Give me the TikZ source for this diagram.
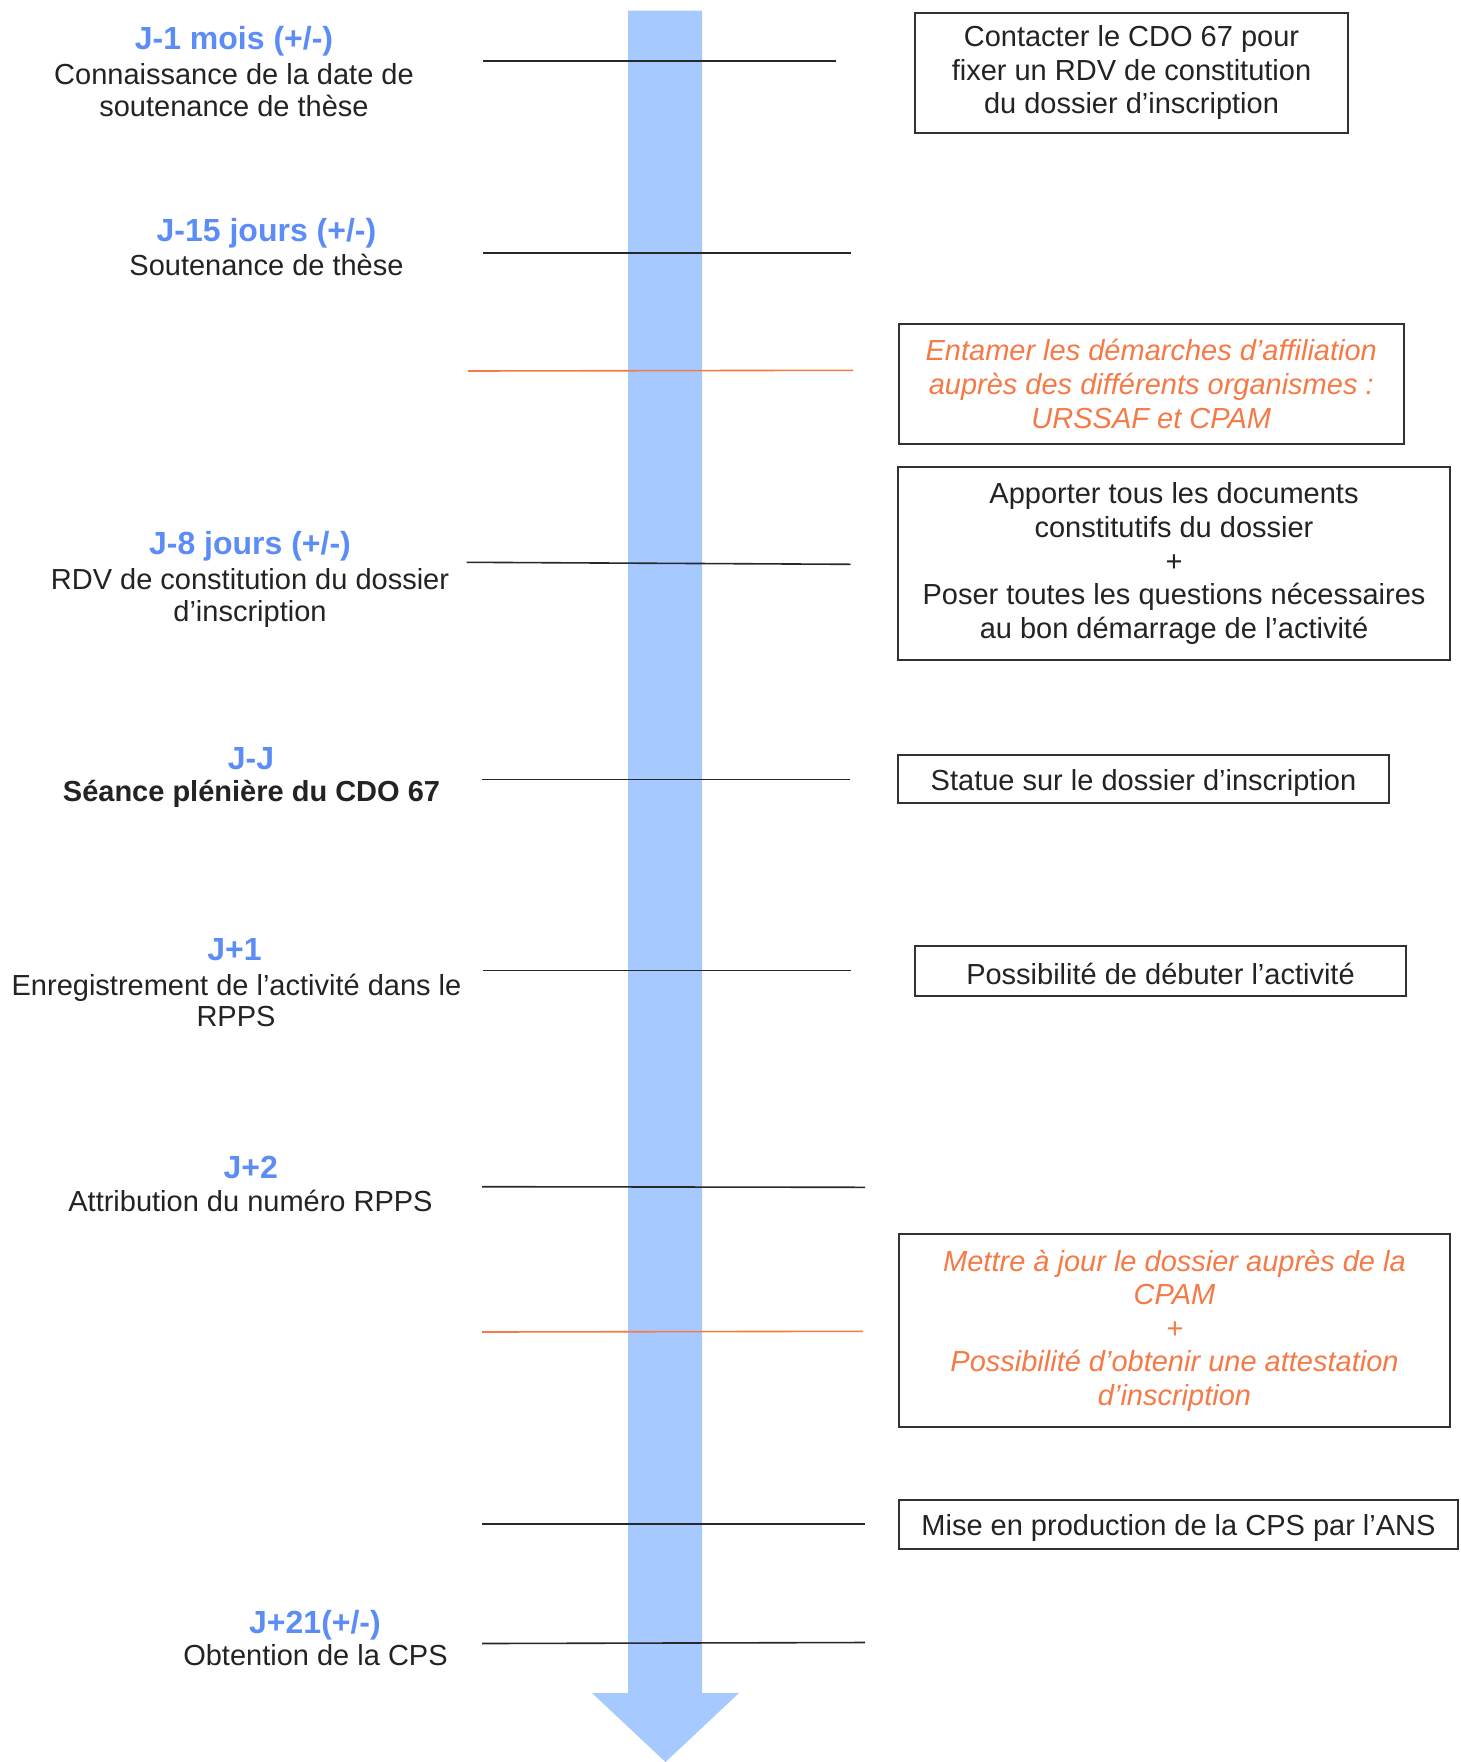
\documentclass[tikz,border=0pt]{standalone}
\usepackage{fontspec}
\setmainfont{Liberation Sans}
\definecolor{jblue}{RGB}{92,141,246}
\definecolor{arrowc}{RGB}{166,201,255}
\definecolor{orng}{RGB}{245,122,70}
\definecolor{txt}{RGB}{35,35,35}
\definecolor{boxc}{RGB}{50,50,50}
\definecolor{linec}{RGB}{40,40,40}
\begin{document}
\begin{tikzpicture}[x=1pt,y=-1pt,
  hd/.style={font=\fontsize{32}{36}\selectfont\bfseries, text=jblue, anchor=base, inner sep=0pt},
  bd/.style={font=\fontsize{29}{33.6}\selectfont, text=txt, anchor=base, inner sep=0pt},
  bdb/.style={bd, font=\fontsize{29}{33.6}\selectfont\bfseries},
  box/.style={draw=boxc, line width=2pt, align=center, font=\fontsize{29}{33.6}\selectfont, text=txt, inner sep=0pt},
  obox/.style={box, text=orng, font=\fontsize{29}{33.6}\selectfont\itshape},
  tick/.style={draw=linec, line width=1.6pt},
  otick/.style={draw=orng, line width=1.6pt}]
\useasboundingbox (0,0) rectangle (1460,1762);
\fill[white] (0,0) rectangle (1460,1762);
% timeline arrow
\fill[arrowc] (628,10.5) -- (702,10.5) -- (702,1693) -- (739,1693) -- (665.5,1762) -- (592,1693) -- (628,1693) -- cycle;
% tick lines
\draw[tick]  (483,60.7) -- (836,60.7);
\draw[tick]  (483,252.7) -- (851,252.7);
\draw[otick] (468,371) -- (853,370.3);
\draw[tick]  (466.7,562.3) -- (850.7,564.3);
\draw[tick]  (482,779.5) -- (850,779.5);
\draw[tick]  (483,970.5) -- (851,970.5);
\draw[tick]  (482,1186.7) -- (865,1187.3);
\draw[otick] (482,1332) -- (863,1331.3);
\draw[tick]  (482,1524) -- (865,1524);
\draw[tick]  (482,1643.5) -- (865,1642.5);
% left labels
\node[hd] (h1) at (234,49.3) {J-1 mois (+/-)};
\node[bd] (b1a) at (234,84) {Connaissance de la date de};
\node[bd] (b1b) at (234,116.7) {soutenance de thèse};
\node[hd] (h2) at (266.5,241) {J-15 jours (+/-)};
\node[bd] (b2a) at (266.5,275) {Soutenance de thèse};
\node[hd] (h3) at (250,554.3) {J-8 jours (+/-)};
\node[bd] (b3a) at (250,589.3) {RDV de constitution du dossier};
\node[bd] (b3b) at (250,621.5) {d’inscription};
\node[hd] (h4) at (251,769) {J-J};
\node[bdb] (b4a) at (251.5,801.7) {Séance plénière du CDO 67};
\node[hd] (h5) at (234.5,960) {J+1};
\node[bd] (b5a) at (236.5,995) {Enregistrement de l’activité dans le};
\node[bd] (b5b) at (236,1026.7) {RPPS};
\node[hd] (h6) at (250.7,1178.3) {J+2};
\node[bd] (b6a) at (250.5,1211.7) {Attribution du numéro RPPS};
\node[hd] (h7) at (315,1633) {J+21(+/-)};
\node[bd] (b7a) at (315.5,1665) {Obtention de la CPS};
% right boxes
\node[box, minimum width=433pt, minimum height=120.3pt] (bxA) at (1131.5,72.85)
  {Contacter le CDO 67 pour\\fixer un RDV de constitution\\du dossier d’inscription};
\node[obox, minimum width=505.5pt, minimum height=120pt] (bxB) at (1151.25,384)
  {Entamer les démarches d’affiliation\\auprès des différents organismes :\\URSSAF et CPAM};
\node[box, minimum width=552pt, minimum height=192.7pt] (bxC) at (1174,563.65)
  {Apporter tous les documents\\constitutifs du dossier\\+\\Poser toutes les questions nécessaires\\au bon démarrage de l’activité};
\node[box, minimum width=491pt, minimum height=47.7pt, text height=29.7pt, text depth=6pt] (bxD) at (1143.5,778.85)
  {Statue sur le dossier d’inscription};
\node[box, minimum width=491pt, minimum height=49.7pt, text height=32.9pt, text depth=6pt] (bxE) at (1160.5,970.85)
  {Possibilité de débuter l’activité};
\node[obox, minimum width=551pt, minimum height=192.7pt] (bxF) at (1174.5,1330.65)
  {Mettre à jour le dossier auprès de la\\CPAM\\+\\Possibilité d’obtenir une attestation\\d’inscription};
\node[box, minimum width=559pt, minimum height=49pt, text height=27pt, text depth=6pt] (bxG) at (1178.5,1524.5)
  {Mise en production de la CPS par l’ANS};
\end{tikzpicture}
\end{document}
